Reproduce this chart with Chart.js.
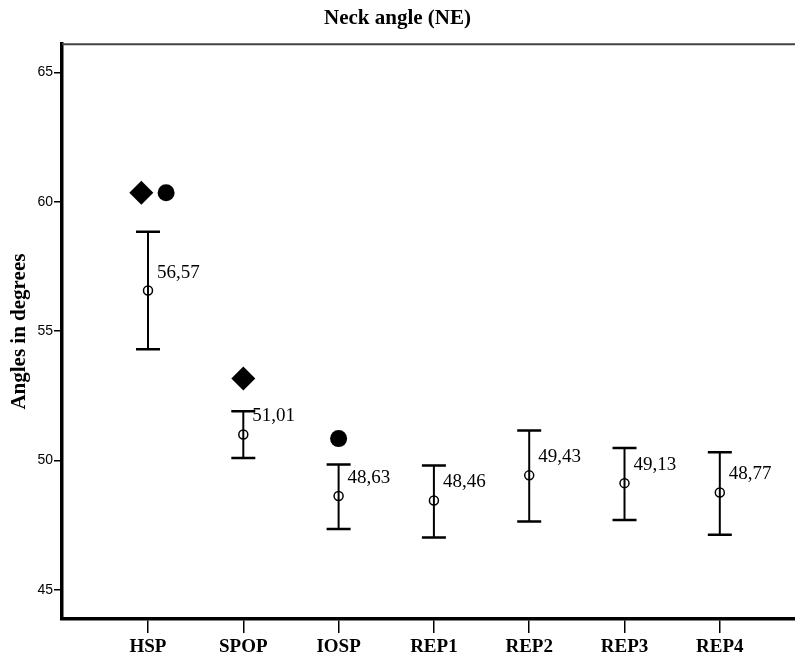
<!DOCTYPE html>
<html>
<head>
<meta charset="utf-8">
<script src="https://cdn.jsdelivr.net/npm/chart.js@4.4.1/dist/chart.umd.min.js"></script>
<style>
  html, body { margin: 0; padding: 0; background: #fff; }
  #wrap { width: 795px; height: 660px; }
</style>
</head>
<body>
<div id="wrap"><canvas id="mycanvas" width="795" height="660"></canvas></div>
<script>
var categories = ['HSP', 'SPOP', 'IOSP', 'REP1', 'REP2', 'REP3', 'REP4'];
var means = [56.57, 51.01, 48.63, 48.46, 49.43, 49.13, 48.77];
var upper = [58.84, 51.91, 49.85, 49.81, 51.16, 50.49, 50.32];
var lower = [54.30, 50.10, 47.36, 47.03, 47.65, 47.71, 47.14];
// outlier-like markers: category position (with small jitter) and value
var diamondX = [0.93, 2.0];
var diamondY = [60.35, 53.17];
var dotX = [1.19, 3.0];
var dotY = [60.35, 50.85];
var yTicks = [45, 50, 55, 60, 65];

var meanPts = [];
for (var i in means) {
	meanPts.push({x: Number(i) + 1, y: means[i]});
}
var diamondPts = [];
for (var i in diamondY) {
	diamondPts.push({x: diamondX[i], y: diamondY[i]});
}
var dotPts = [];
for (var i in dotY) {
	dotPts.push({x: dotX[i], y: dotY[i]});
}

var serif = '"Liberation Serif", "Times New Roman", serif';

var errorBars = {
	id: 'errorBars',
	afterDatasetsDraw: function(chart) {
		var ctx = chart.ctx;
		var xs = chart.scales.x, ys = chart.scales.y;
		var area = chart.chartArea;
		ctx.save();
		// thin top frame line
		ctx.strokeStyle = '#444';
		ctx.lineWidth = 2;
		ctx.beginPath();
		ctx.moveTo(area.left, area.top);
		ctx.lineTo(area.right, area.top);
		ctx.stroke();

		ctx.strokeStyle = '#000';
		ctx.fillStyle = '#000';
		ctx.font = '19px ' + serif;
		ctx.textAlign = 'left';
		ctx.textBaseline = 'middle';
		for (var i = 0; i < means.length; i++) {
			var x = xs.getPixelForValue(i + 1);
			var yU = ys.getPixelForValue(upper[i]);
			var yL = ys.getPixelForValue(lower[i]);
			var yM = ys.getPixelForValue(means[i]);
			ctx.lineWidth = 2;
			ctx.beginPath();
			ctx.moveTo(x, yU);
			ctx.lineTo(x, yL);
			ctx.stroke();
			ctx.lineWidth = 2.5;
			ctx.beginPath();
			ctx.moveTo(x - 12, yU);
			ctx.lineTo(x + 12, yU);
			ctx.moveTo(x - 12, yL);
			ctx.lineTo(x + 12, yL);
			ctx.stroke();
			ctx.fillText(means[i].toFixed(2).replace('.', ','), x + 9, yM - 18);
		}
		ctx.restore();
	}
};

var ctx = document.getElementById('mycanvas');

var chart = new Chart(ctx, {
	type: 'scatter',
	data: {
		datasets: [
			{
				label: 'Mean',
				data: meanPts,
				pointStyle: 'circle',
				pointRadius: 4.5,
				borderWidth: 1.5,
				borderColor: '#000',
				backgroundColor: 'rgba(0,0,0,0)'
			},
			{
				label: 'Diamond',
				data: diamondPts,
				pointStyle: 'rectRot',
				pointRadius: 12,
				borderWidth: 0,
				backgroundColor: '#000'
			},
			{
				label: 'Dot',
				data: dotPts,
				pointStyle: 'circle',
				pointRadius: 8.5,
				borderWidth: 0,
				backgroundColor: '#000'
			}
		]
	},
	options: {
		responsive: false,
		animation: false,
		layout: { padding: 0, autoPadding: false },
		plugins: {
			legend: { display: false },
			tooltip: { enabled: false },
			title: {
				display: true,
				text: 'Neck angle (NE)',
				color: '#000',
				font: { family: serif, size: 21, weight: 'bold', lineHeight: 1.2 },
				padding: { top: 6, bottom: 13 }
			}
		},
		scales: {
			x: {
				type: 'linear',
				min: 0.0976,
				max: 7.789,
				afterBuildTicks: function(scale) {
					scale.ticks = categories.map(function(c, k) { return {value: k + 1}; });
				},
				afterFit: function(scale) {
					scale.height = 41;
					scale.paddingLeft = 0;
					scale.paddingRight = 0;
				},
				ticks: {
					color: '#000',
					padding: 3,
					maxRotation: 0,
					autoSkip: false,
					font: { family: serif, size: 19, weight: 'bold' },
					callback: function(v) { return categories[Math.round(v) - 1]; }
				},
				grid: { display: true, drawOnChartArea: false, drawTicks: true, tickLength: 14, color: '#000', lineWidth: 1.5 },
				border: { display: true, color: '#000', width: 3.5 }
			},
			y: {
				min: 43.88,
				max: 66.09,
				afterBuildTicks: function(scale) {
					scale.ticks = yTicks.map(function(v) { return {value: v}; });
				},
				afterFit: function(scale) { scale.width = 62; },
				ticks: {
					color: '#000',
					padding: 1,
					font: { family: '"Liberation Sans", Arial, sans-serif', size: 14 }
				},
				grid: { display: true, drawOnChartArea: false, drawTicks: true, tickLength: 8, color: '#000', lineWidth: 1.5 },
				border: { display: true, color: '#000', width: 3.5 },
				title: {
					display: true,
					text: 'Angles in degrees',
					color: '#000',
					font: { family: serif, size: 21, weight: 'bold', lineHeight: 1.2 },
					padding: { top: 7, bottom: 0 }
				}
			}
		}
	},
	plugins: [errorBars]
});
</script>
</body>
</html>
